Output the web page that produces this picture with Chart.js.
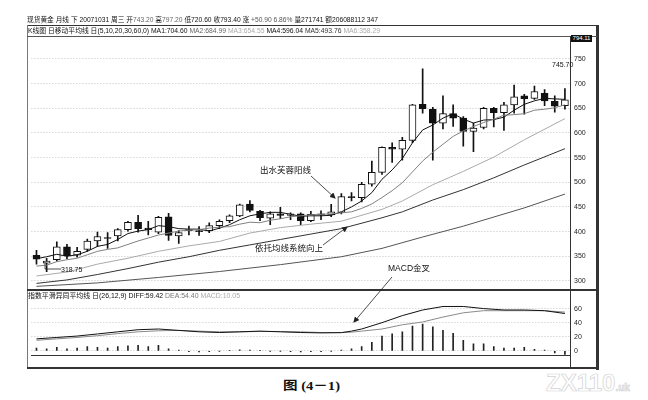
<!DOCTYPE html>
<html>
<head>
<meta charset="utf-8">
<script src="https://cdn.jsdelivr.net/npm/chart.js@4.4.0/dist/chart.umd.min.js"></script>
<style>
body { margin: 0; background: #fff; }
#page { position: relative; width: 648px; height: 400px; overflow: hidden; background: #fff;
  font-family: "Liberation Sans", "Noto Sans CJK SC", sans-serif; color: #111; }
.txt { position: absolute; white-space: nowrap; font-size: 7px; line-height: 9px; transform-origin: 0 50%; z-index: 5; }
.note { position: absolute; white-space: nowrap; font-size: 8.5px; line-height: 10px; z-index: 5; color: #111; }
.ln { position: absolute; background: #333; z-index: 4; }
canvas { position: absolute; z-index: 2; }
svg { position: absolute; left: 0; top: 0; z-index: 6; }
</style>
</head>
<body>
<div id="page">
  <div class="txt" data-w="351" style="left:27px;top:15px">现货黄金 月线 下 20071031 周三 开<span style="color:#666">743.20</span> 高<span style="color:#666">797.20</span> 低720.60 收793.40 涨 <span style="color:#555">+50.90 6.86%</span> 量271741 额206088112 347</div>
  <div class="txt" data-w="352" style="left:28px;top:26px">K线图 日移动平均线 日(5,10,20,30,60,0) MA1:704.60 <span style="color:#666">MA2:684.99</span> <span style="color:#aaa">MA3:654.55</span> MA4:596.04 <span style="color:#333">MA5:493.76</span> <span style="color:#aaa">MA6:358.29</span></div>
  <div class="txt" data-w="212" style="left:28px;top:291px">指数平滑异同平均线 日(26,12,9) DIFF:59.42 <span style="color:#777">DEA:54.40</span> <span style="color:#aaa">MACD:10.05</span></div>

  <div class="ln" style="left:27px;top:25px;width:572px;height:1px;"></div>
  <div class="ln" style="left:27px;top:25px;width:1px;height:344px;background:#777"></div>
  <div class="ln" style="left:596px;top:25px;width:3px;height:345px;"></div>
  <div class="ln" style="left:27px;top:36px;width:570px;height:1px;background:#555"></div>
  <div class="ln" style="left:27px;top:289px;width:570px;height:2px;"></div>
  <div class="ln" style="left:570px;top:36px;width:1px;height:333px;"></div>
  <div class="ln" style="left:27px;top:367px;width:572px;height:2px;"></div>

  <div style="position:absolute;left:571px;top:35px;width:21px;height:7px;background:#111;color:#fff;font-size:6px;line-height:7px;text-align:center;z-index:7">794.11</div>
  <div class="txt" style="left:552px;top:60px;font-size:7px">745.70</div>
  <div class="txt" style="left:61px;top:265px;font-size:7px">318.75</div>

  <div class="note" style="left:260px;top:165px">出水芙蓉阳线</div>
  <div class="note" style="left:255px;top:243px">依托均线系统向上</div>
  <div class="note" style="left:388px;top:263px">MACD金叉</div>

  <div class="txt" data-w="57" style="left:283px;top:380px;font-size:12px;line-height:13px;font-weight:bold;font-family:'Liberation Serif','Noto Sans CJK SC',serif">图 (4－1)</div>
  <div style="position:absolute;left:546px;top:369px;font-size:24px;font-weight:bold;color:transparent;-webkit-text-stroke:0.7px #d2d2d2;font-family:'Liberation Sans',sans-serif">ZX110<span style="font-size:10px">.uk</span></div>

  <svg width="648" height="400">
    <defs>
      <marker id="ah" markerWidth="6" markerHeight="6" refX="5" refY="3" orient="auto" markerUnits="userSpaceOnUse">
        <path d="M0,0 L6,3 L0,6 z" fill="#222"/>
      </marker>
    </defs>
    <line x1="311" y1="176" x2="335" y2="198" stroke="#222" stroke-width="0.8" marker-end="url(#ah)"/>
    <line x1="323" y1="245" x2="347" y2="227" stroke="#222" stroke-width="0.8" marker-end="url(#ah)"/>
    <line x1="392" y1="277" x2="354" y2="322" stroke="#222" stroke-width="0.8" marker-end="url(#ah)"/>
    <polyline points="45,262 45,269 61,269" fill="none" stroke="#222" stroke-width="0.8"/>
  </svg>

  <canvas id="kline" width="572" height="268" style="left:28px;top:30px"></canvas>
  <canvas id="macd" width="572" height="80" style="left:28px;top:292px"></canvas>
</div>
<script>
// months (monthly candles)
const months = [
  "2003-03","2003-04","2003-05","2003-06","2003-07","2003-08","2003-09","2003-10","2003-11","2003-12",
  "2004-01","2004-02","2004-03","2004-04","2004-05","2004-06","2004-07","2004-08","2004-09","2004-10","2004-11","2004-12",
  "2005-01","2005-02","2005-03","2005-04","2005-05","2005-06","2005-07","2005-08","2005-09","2005-10","2005-11","2005-12",
  "2006-01","2006-02","2006-03","2006-04","2006-05","2006-06","2006-07","2006-08","2006-09","2006-10","2006-11","2006-12",
  "2007-01","2007-02","2007-03","2007-04","2007-05","2007-06","2007-07"
];

const openP = [352,336,343,369,352,364,381,388,391,404, 419,407,399,430,391,404,402,402,412,422,
  432,456,441,427,436,433,436,422,436,434, 439,471,469,496,520,571,567,585,658,648,
  620,639,630,603,611,650,641,657,675,670, 680,664,655];
const highP = [362,346,379,374,368,385,399,398,406,421, 433,421,431,437,402,411,410,418,424,434,
  456,463,443,440,449,438,438,441,442,455, 477,479,500,543,572,580,591,658,730,652,
  675,657,633,620,652,652,662,697,678,695, 688,675,690];
const lowP = [334,318.75,340,345,348,360,370,366,381,401, 399,393,396,382,376,393,392,398,406,418,
  430,440,422,414,426,424,414,420,424,430, 436,462,460,492,516,540,545,580,640,545,
  608,613,573,562,608,612,605,640,638,668, 655,642,648];
const closeP = [344,340,369,351,360,381,390,386,404,419, 406,404,429,392,398,402,400,412,421,432,
  454,443,428,436,433,436,422,435,434,440, 471,469,496,520,571,567,585,657,649,620,
  639,630,603,610,650,641,657,673,669,684, 665,654,667];

// moving averages
const ma5 = [345,349,354,350,353,360,370,374,384,396, 401,404,412,410,406,405,405,401,407,414,
  424,432,436,439,439,435,431,432,432,433, 440,450,462,479,506,525,548,580,606,616,
  630,639,628,620,626,627,632,646,658,665, 670,669,668];
const ma10 = [330,332,339,343,346,353,360,364,367,374, 381,387,393,397,401,403,404,407,409,410,
  415,419,418,423,426,430,432,434,435,436, 438,440,447,456,469,483,499,521,543,561,
  577,593,604,613,621,628,636,637,639,646, 648,651,657];
const ma20Idx = [0,3,6,9,12,15,18,21,24,27,30,34,36,39,42,45,48,52];
const ma20 = [310,318,334,346,360,371,380,397,408,415,421,445,462,495,522,551,586,629];
const ma30Idx = [0,3,6,9,12,15,18,21,24,27,30,34,36,39,42,45,48,52];
const ma30 = [295,302,313,325,338,349,362,373,384,395,406,428,440,464,485,509,535,568];
const ma60Idx = [0,6,12,18,24,30,34,38,42,48,52];
const ma60 = [289,296,307,319,333,349,366,389,411,448,476];

// MACD (26,12,9)
const diffIdx = [0,2,4,6,8,10,12,14,16,18,20,22,24,26,28,30,31,32,34,36,38,40,42,44,46,48,50,52];
const diff = [17,19,21,24,27,30,31,29,27,26,27,28,27,26,25.5,25.8,28,31,40,50,58,63,63,60,58,58,57,53];
const dea = [15,17,19,21.5,24.5,27,28.5,29,28,27,27,27.5,27.5,27,26,26,26.5,28,31,37,41,48,54,57,57,57,57,55];
const macd = [4,3,5,3,4,6,5,4,6,7, 8,6,8,3,1,-1,-1.5,-1,-0.5,0.5,
  1.5,1,0.5,-0.5,-0.5,-1,-1.5,-1,-1,-0.5, 1,3,6,12,21,24,27,35,38,34,
  29,25,15,10,10,6,4,4,5,2, 1,-3,-5];

const priceTicks = [300,350,400,450,500,550,600,650,700,750];
const macdTicks = [0,20,40,60];
const xTickIdx = [0,4,7,10,14,17,20,22,26,29,32,34,38,41,44,46,50,53];
const xTickText = ["2003","7","10","2004","5","8","11","2005","5","8","11","2006","5","8","11","2007","5","8"];

const pts = (idx, vals) => idx.map((k, j) => ({ x: months[k], y: vals[j] }));
const tickFont = { family: "Liberation Sans", size: 7 };
const lineDs = (data, color) => ({ type: "line", data, borderColor: color, borderWidth: 1,
  pointRadius: 0, tension: 0, order: 0 });

new Chart(document.getElementById("kline"), {
  data: {
    labels: months,
    datasets: [
      lineDs(ma60.length ? pts(ma60Idx, ma60) : [], "#555"),
      lineDs(pts(ma30Idx, ma30), "#333"),
      lineDs(pts(ma20Idx, ma20), "#aaa"),
      lineDs(ma10, "#808080"),
      lineDs(ma5, "#111"),
      {
        type: "bar", data: months.map((m, i) => [lowP[i], highP[i]]),
        backgroundColor: "#111", barThickness: 1, grouped: false, order: 3,
      },
      {
        type: "bar", data: months.map((m, i) => [openP[i], closeP[i]]),
        backgroundColor: closeP.map((c, i) => (c < openP[i] ? "#111" : "#fff")),
        borderColor: "#111", borderWidth: 1, borderSkipped: false,
        barThickness: 7, grouped: false, order: 2,
      },
    ],
  },
  options: {
    responsive: false, animation: false,
    layout: { padding: { left: 3.4, right: 0, top: 6, bottom: 8 } },
    plugins: { legend: { display: false }, tooltip: { enabled: false } },
    scales: {
      x: { type: "category", offset: true, display: false },
      y: {
        position: "right", min: 282, max: 792,
        afterBuildTicks: (a) => { a.ticks = priceTicks.map((v) => ({ value: v })); },
        afterFit: (a) => { a.width = 30; },
        ticks: { font: tickFont, color: "#222", padding: 4 },
        grid: { color: "#c4c4c4", drawTicks: false },
        border: { display: true, color: "#222", dash: [1, 2] },
      },
    },
  },
});

new Chart(document.getElementById("macd"), {
  data: {
    labels: months,
    datasets: [
      lineDs(pts(diffIdx, diff), "#111"),
      lineDs(pts(diffIdx, dea), "#8a8a8a"),
      { type: "bar", data: macd, backgroundColor: "#222", barThickness: 1, order: 2 },
    ],
  },
  options: {
    responsive: false, animation: false,
    layout: { padding: { left: 3.4, right: 0, top: 6, bottom: 5 } },
    plugins: { legend: { display: false }, tooltip: { enabled: false } },
    scales: {
      x: {
        type: "category", offset: true,
        afterBuildTicks: (a) => { a.ticks = xTickIdx.map((v) => ({ value: v })); },
        afterFit: (a) => { a.height = 12; a.paddingLeft = 0; a.paddingRight = 0; },
        ticks: { autoSkip: false, maxRotation: 0, font: tickFont, color: "#222", padding: 3,
          labelOffset: -2, callback: (v, i) => xTickText[i] },
        grid: { display: false },
        border: { display: true, color: "#333" },
      },
      y: {
        position: "right", min: -5.9, max: 71.9,
        afterBuildTicks: (a) => { a.ticks = macdTicks.map((v) => ({ value: v })); },
        afterFit: (a) => { a.width = 30; },
        ticks: { font: tickFont, color: "#222", padding: 4 },
        grid: { color: "#c4c4c4", drawTicks: false },
        border: { display: true, color: "#222", dash: [1, 2] },
      },
    },
  },
});

// squeeze the header lines to the width they take in the picture
const fit = () => {
  document.querySelectorAll("[data-w]").forEach((el) => {
    el.style.transform = "none";
    const w = el.getBoundingClientRect().width;
    el.style.transform = "scaleX(" + el.dataset.w / w + ")";
  });
};
fit();
if (document.fonts) document.fonts.ready.then(fit);
</script>
</body>
</html>
